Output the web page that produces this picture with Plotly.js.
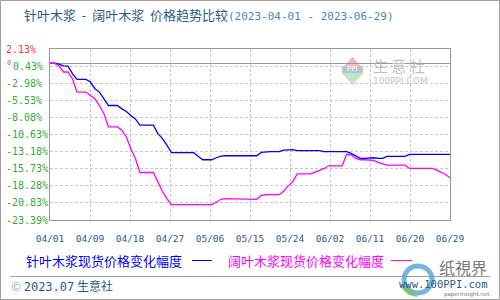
<!DOCTYPE html>
<html>
<head>
<meta charset="utf-8">
<script src="https://cdn.plot.ly/plotly-3.0.1.min.js"></script>
<style>
html,body{margin:0;padding:0;background:#fff;}
#chart{width:500px;height:300px;}
</style>
</head>
<body>
<div id="chart"></div>
<script>
// ---- data ----
const dates = [
"2023-04-01","2023-04-02","2023-04-03","2023-04-04","2023-04-05","2023-04-06","2023-04-07","2023-04-08","2023-04-09","2023-04-10",
"2023-04-11","2023-04-12","2023-04-13","2023-04-14","2023-04-15","2023-04-16","2023-04-17","2023-04-18","2023-04-19","2023-04-20",
"2023-04-21","2023-04-22","2023-04-23","2023-04-24","2023-04-25","2023-04-26","2023-04-27","2023-04-28","2023-04-29","2023-04-30",
"2023-05-01","2023-05-02","2023-05-03","2023-05-04","2023-05-05","2023-05-06","2023-05-07","2023-05-08","2023-05-09","2023-05-10",
"2023-05-11","2023-05-12","2023-05-13","2023-05-14","2023-05-15","2023-05-16","2023-05-17","2023-05-18","2023-05-19","2023-05-20",
"2023-05-21","2023-05-22","2023-05-23","2023-05-24","2023-05-25","2023-05-26","2023-05-27","2023-05-28","2023-05-29","2023-05-30",
"2023-05-31","2023-06-01","2023-06-02","2023-06-03","2023-06-04","2023-06-05","2023-06-06","2023-06-07","2023-06-08","2023-06-09",
"2023-06-10","2023-06-11","2023-06-12","2023-06-13","2023-06-14","2023-06-15","2023-06-16","2023-06-17","2023-06-18","2023-06-19",
"2023-06-20","2023-06-21","2023-06-22","2023-06-23","2023-06-24","2023-06-25","2023-06-26","2023-06-27","2023-06-28","2023-06-29"
];

// 针叶木浆现货价格变化幅度 (%)
const softwood = [
 0, 0, -0.14, -0.4, -0.44, -1.55, -2.4, -2.4, -2.4, -2.8,
 -3.8, -4.3, -5.3, -6.3, -6.3, -6.3, -6.8, -7.2, -7.8, -8.3,
 -9.24, -9.24, -9.24, -9.24, -10.5, -11.2, -12.2, -13.34, -13.34, -13.34,
 -13.34, -13.34, -13.34, -13.9, -14.4, -14.4, -14.4, -14.1, -13.85, -13.8,
 -13.8, -13.8, -13.8, -13.8, -13.8, -13.8, -13.8, -13.3, -13.2, -13.2,
 -13.2, -13.2, -12.97, -12.9, -12.9, -13.05, -13.05, -13.05, -13.05, -13.05,
 -13.05, -13.2, -13.2, -13.2, -13.2, -13.2, -13.2, -13.45, -13.8, -14.2,
 -14.2, -14.15, -14.1, -14.2, -14.2, -13.9, -13.9, -13.9, -13.9, -13.9,
 -13.6, -13.6, -13.6, -13.6, -13.6, -13.6, -13.6, -13.6, -13.6, -13.6
];

// 阔叶木浆现货价格变化幅度 (%)
const hardwood = [
 0, 0, -0.4, -1.3, -1.3, -2.3, -4.3, -4.3, -4.3, -4.8,
 -5.3, -6.3, -7.5, -9.5, -9.5, -9.5, -10.0, -11.0, -12.8, -14.2,
 -16.3, -16.3, -16.3, -16.3, -17.7, -19.1, -20.2, -21.1, -21.1, -21.1,
 -21.1, -21.1, -21.1, -21.1, -21.1, -21.1, -21.1, -20.75, -20.3, -20.2,
 -20.2, -20.2, -20.2, -20.2, -20.2, -20.3, -20.3, -19.75, -19.6, -19.6,
 -19.6, -19.6, -19.1, -18.3, -17.7, -16.5, -16.5, -16.5, -16.5, -16.25,
 -16.0, -15.7, -15.3, -15.3, -15.3, -15.3, -13.6, -13.65, -14.2, -14.4,
 -14.4, -14.4, -14.5, -14.8, -15.0, -15.2, -15.2, -15.2, -15.2, -15.2,
 -15.7, -15.7, -15.7, -15.7, -15.7, -15.7, -15.9, -16.2, -16.6, -17.1
];

const xTickText = ["04/01","04/09","04/18","04/27","05/06","05/15","05/24","06/02","06/11","06/20","06/29"];
const yTickVals = [-0.43, -2.98, -5.53, -8.08, -10.63, -13.18, -15.73, -18.28, -20.83, -23.39];
const yTickText = ["0.43%","-2.98%","-5.53%","-8.08%","-10.63%","-13.18%","-15.73%","-18.28%","-20.83%","-23.39%"];
const yTop = 2.13;
const yTopText = "2.13%";
const seriesNames = ["针叶木浆现货价格变化幅度","阔叶木浆现货价格变化幅度"];
const seriesColors = ["#0000ff","#ff00ff"];

// ---- layout helpers ----
const W = 500, H = 300;
const M = {l:50, r:50, t:49, b:80};
const PW = W - M.l - M.r, PH = H - M.t - M.b;
const px = x => (x - M.l) / PW;              // pixel x -> paper x
const py = y => 1 - (y - M.t) / PH;          // pixel y -> paper y

const t0 = Date.parse(dates[0] + "T00:00:00Z");
const t1 = Date.parse(dates[dates.length-1] + "T00:00:00Z");
const xTickVals = xTickText.map((_, i) => new Date(t0 + i * (t1 - t0) / (xTickText.length - 1)).toISOString().replace("T"," ").replace("Z",""));

const mono = "DejaVu Sans Mono, monospace";
const cjk = "Noto Sans CJK SC, sans-serif";

const traces = [
  {x: dates, y: softwood, type: "scatter", mode: "lines", name: seriesNames[0],
   line: {color: seriesColors[0], width: 1.3}, hoverinfo: "skip"},
  {x: dates, y: hardwood, type: "scatter", mode: "lines", name: seriesNames[1],
   line: {color: seriesColors[1], width: 1.3}, hoverinfo: "skip"}
];

const annotations = [];
// y-axis labels (left aligned, like the original)
yTickVals.forEach((v, i) => {
  annotations.push({xref: "paper", yref: "y", x: px(i === 0 ? 11 : 4), y: v, xanchor: "left", yanchor: "middle",
    text: yTickText[i], showarrow: false, font: {family: mono, size: 10, color: "#33aa33"}});
});
annotations.push({xref: "paper", yref: "y", x: px(4), y: yTop, xanchor: "left", yanchor: "middle",
  text: yTopText, showarrow: false, font: {family: mono, size: 10, color: "#ff3333"}});
annotations.push({xref: "paper", yref: "paper", x: px(5), y: py(63), xanchor: "left", yanchor: "middle",
  text: "0", showarrow: false, font: {family: mono, size: 7, color: "#888888"}});

// legend as text + line segments
annotations.push({xref: "paper", yref: "paper", x: px(24), y: py(260), xanchor: "left", yanchor: "middle",
  text: seriesNames[0], showarrow: false, font: {family: cjk, size: 13, color: seriesColors[0]}});
annotations.push({xref: "paper", yref: "paper", x: px(226), y: py(260), xanchor: "left", yanchor: "middle",
  text: seriesNames[1], showarrow: false, font: {family: cjk, size: 13, color: seriesColors[1]}});

// footer
annotations.push({xref: "paper", yref: "paper", x: px(9), y: py(285), xanchor: "left", yanchor: "middle",
  text: '<span style="color:#8aa4bc">©</span> <span style="font-family:DejaVu Sans Mono">2023.07</span> 生意社', showarrow: false,
  font: {family: cjk, size: 12, color: "#1f5c8b"}});

// watermark (top right)
annotations.push({xref: "paper", yref: "paper", x: px(371), y: py(65), xanchor: "left", yanchor: "middle",
  text: "生 意 社", showarrow: false, font: {family: cjk, size: 15, color: "#b8bfce"}});
annotations.push({xref: "paper", yref: "paper", x: px(371), y: py(80.5), xanchor: "left", yanchor: "middle",
  text: "100PPI.COM", showarrow: false, font: {family: "DejaVu Sans, sans-serif", size: 9, color: "#c0c4cc"}});
annotations.push({xref: "paper", yref: "paper", x: px(352.5), y: py(69), xanchor: "center", yanchor: "middle",
  text: "PPI", showarrow: false, font: {family: "DejaVu Sans, sans-serif", size: 7, color: "#ffffff"}});

// bottom-right logo
annotations.push({xref: "paper", yref: "paper", x: px(437), y: py(267), xanchor: "left", yanchor: "middle",
  text: "纸視界", showarrow: false, font: {family: "Noto Sans CJK TC, sans-serif", size: 16, color: "#7a7a7a"}});
annotations.push({xref: "paper", yref: "paper", x: px(397), y: py(283.5), xanchor: "left", yanchor: "middle",
  text: "www.100PPI.com", showarrow: false, font: {family: mono, size: 10.5, color: "#1f5c8b"}});
annotations.push({xref: "paper", yref: "paper", x: px(442), y: py(294.5), xanchor: "left", yanchor: "middle",
  text: "paperinsight.net", showarrow: false, font: {family: "DejaVu Sans, sans-serif", size: 5.5, color: "#777777"}});

const shapes = [
  // outer border
  {type: "rect", xref: "paper", yref: "paper", x0: px(0.5), x1: px(499.5), y0: py(0.5), y1: py(299.5),
   line: {color: "#a0a0a0", width: 1}, fillcolor: "rgba(0,0,0,0)", layer: "below"},
  // footer separator
  {type: "line", xref: "paper", yref: "paper", x0: px(10), x1: px(490), y0: py(276.5), y1: py(276.5),
   line: {color: "#a0a0a0", width: 1}},
  // legend lines
  {type: "line", xref: "paper", yref: "paper", x0: px(192), x1: px(212), y0: py(260.5), y1: py(260.5),
   line: {color: seriesColors[0], width: 1}},
  {type: "line", xref: "paper", yref: "paper", x0: px(391), x1: px(412), y0: py(260.5), y1: py(260.5),
   line: {color: seriesColors[1], width: 1}},
  // watermark logo triangles
  {type: "path", xref: "paper", yref: "paper",
   path: `M ${px(352.5)} ${py(56.5)} L ${px(341.5)} ${py(69)} L ${px(363.5)} ${py(69)} Z`,
   fillcolor: "#f4b9b0", line: {width: 0}, layer: "below"},
  {type: "rect", xref: "paper", yref: "paper", x0: px(342), x1: px(363), y0: py(66), y1: py(73),
   fillcolor: "#b9c3d6", line: {width: 0}, layer: "below"},
  {type: "path", xref: "paper", yref: "paper",
   path: `M ${px(341.5)} ${py(73)} L ${px(363.5)} ${py(73)} L ${px(352.5)} ${py(85)} Z`,
   fillcolor: "#bfe6bf", line: {width: 0}, layer: "below"},
  // bottom-right swirl logo
  {type: "circle", xref: "paper", yref: "paper", x0: px(404), x1: px(432), y0: py(266), y1: py(293),
   line: {color: "#5aaad8", width: 5}, fillcolor: "rgba(0,0,0,0)", opacity: 0.85},
  {type: "path", xref: "paper", yref: "paper",
   path: `M ${px(400)} ${py(284)} Q ${px(404)} ${py(296)} ${px(418)} ${py(297)} L ${px(412)} ${py(290)} Z`,
   fillcolor: "#7cc06a", line: {width: 0}, opacity: 0.9}
];

const layout = {
  width: W, height: H,
  margin: M,
  paper_bgcolor: "#ffffff", plot_bgcolor: "#ffffff",
  showlegend: false,
  title: {
    text: '针叶木浆 &nbsp;-&nbsp; 阔叶木浆 &nbsp;价格趋势比较<span style="font-family:DejaVu Sans Mono;font-size:11px;color:#4a86b4">(2023-04-01 - 2023-06-29)</span>',
    font: {family: cjk, size: 13, color: "#1f5c8b"},
    xref: "container", yref: "container", x: 24/W, xanchor: "left", y: 1 - 15/H, yanchor: "middle"
  },
  xaxis: {
    type: "date",
    range: [dates[0], dates[dates.length-1]],
    tickmode: "array", tickvals: xTickVals, ticktext: xTickText,
    showgrid: true, gridcolor: "#c8c8c8", griddash: "3px,2px", gridwidth: 1,
    showline: true, linecolor: "#999999", linewidth: 1, mirror: true,
    ticks: "", zeroline: false,
    tickfont: {family: mono, size: 9.5, color: "#1f5c8b"},
    ticklabelstandoff: 10,
    fixedrange: true
  },
  yaxis: {
    range: [yTickVals[yTickVals.length-1], yTop],
    tickmode: "array", tickvals: yTickVals, showticklabels: false,
    showgrid: true, gridcolor: "#c8c8c8", griddash: "3px,2px", gridwidth: 1,
    showline: true, linecolor: "#999999", linewidth: 1, mirror: true,
    zeroline: true, zerolinecolor: "#999999", zerolinewidth: 1,
    ticks: "", fixedrange: true
  },
  annotations: annotations,
  shapes: shapes
};

Plotly.newPlot("chart", traces, layout, {staticPlot: true, displayModeBar: false});
</script>
</body>
</html>
